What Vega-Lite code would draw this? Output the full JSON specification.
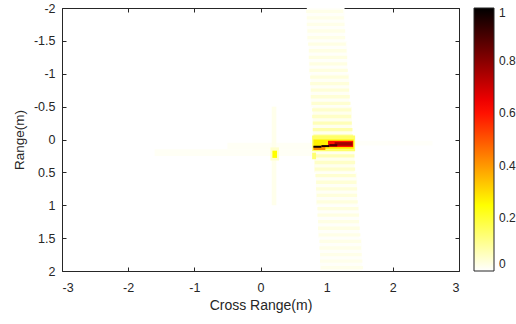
{
  "$schema": "https://vega.github.io/schema/vega-lite/v6.json",
  "width": 397,
  "height": 263,
  "autosize": {"type": "none"},
  "padding": {"left": 62, "top": 8, "right": 57, "bottom": 53},
  "background": "white",
  "config": {
    "view": {"stroke": "#262626", "strokeWidth": 1},
    "font": "Liberation Sans",
    "axis": {
      "grid": false,
      "domain": false,
      "ticks": true,
      "tickColor": "#262626",
      "labelColor": "#262626",
      "titleColor": "#262626",
      "labelFont": "Liberation Sans",
      "titleFont": "Liberation Sans",
      "labelFontSize": 12.5,
      "titleFontSize": 14,
      "titleFontWeight": "normal",
      "tickSize": -4
    }
  },
  "data": {
    "values": [
      {"x": 0.70, "x2": 1.27, "y": -2.0, "y2": -1.5, "v": 0.006},
      {"x": 0.73, "x2": 1.31, "y": -1.5, "y2": -1.0, "v": 0.006},
      {"x": 0.76, "x2": 1.34, "y": -1.0, "y2": -0.5, "v": 0.01},
      {"x": 0.79, "x2": 1.38, "y": -0.5, "y2": 0.0, "v": 0.018},
      {"x": 0.81, "x2": 1.42, "y": 0.0, "y2": 0.5, "v": 0.018},
      {"x": 0.84, "x2": 1.46, "y": 0.5, "y2": 1.0, "v": 0.01},
      {"x": 0.87, "x2": 1.49, "y": 1.0, "y2": 1.5, "v": 0.006},
      {"x": 0.90, "x2": 1.53, "y": 1.5, "y2": 2.0, "v": 0.006},

      {"x": 0.69, "x2": 1.25, "y": -1.975, "y2": -1.925, "v": 0.022},
      {"x": 0.70, "x2": 1.26, "y": -1.875, "y2": -1.825, "v": 0.022},
      {"x": 0.70, "x2": 1.27, "y": -1.775, "y2": -1.725, "v": 0.022},
      {"x": 0.71, "x2": 1.28, "y": -1.675, "y2": -1.625, "v": 0.024},
      {"x": 0.71, "x2": 1.28, "y": -1.575, "y2": -1.525, "v": 0.024},
      {"x": 0.72, "x2": 1.29, "y": -1.475, "y2": -1.425, "v": 0.026},
      {"x": 0.73, "x2": 1.30, "y": -1.375, "y2": -1.325, "v": 0.026},
      {"x": 0.73, "x2": 1.31, "y": -1.275, "y2": -1.225, "v": 0.028},
      {"x": 0.74, "x2": 1.31, "y": -1.175, "y2": -1.125, "v": 0.028},
      {"x": 0.74, "x2": 1.32, "y": -1.075, "y2": -1.025, "v": 0.03},
      {"x": 0.75, "x2": 1.33, "y": -0.975, "y2": -0.925, "v": 0.034},
      {"x": 0.75, "x2": 1.34, "y": -0.875, "y2": -0.825, "v": 0.036},
      {"x": 0.76, "x2": 1.34, "y": -0.775, "y2": -0.725, "v": 0.038},
      {"x": 0.76, "x2": 1.35, "y": -0.675, "y2": -0.625, "v": 0.04},
      {"x": 0.77, "x2": 1.36, "y": -0.575, "y2": -0.525, "v": 0.045},
      {"x": 0.78, "x2": 1.37, "y": -0.475, "y2": -0.425, "v": 0.05},
      {"x": 0.78, "x2": 1.37, "y": -0.375, "y2": -0.325, "v": 0.055},
      {"x": 0.79, "x2": 1.38, "y": -0.275, "y2": -0.225, "v": 0.07},
      {"x": 0.79, "x2": 1.39, "y": -0.175, "y2": -0.125, "v": 0.08},
      {"x": 0.80, "x2": 1.40, "y": -0.075, "y2": -0.025, "v": 0.1},
      {"x": 0.80, "x2": 1.40, "y": 0.025, "y2": 0.075, "v": 0.1},
      {"x": 0.81, "x2": 1.41, "y": 0.125, "y2": 0.175, "v": 0.08},
      {"x": 0.81, "x2": 1.42, "y": 0.225, "y2": 0.275, "v": 0.07},
      {"x": 0.82, "x2": 1.43, "y": 0.325, "y2": 0.375, "v": 0.055},
      {"x": 0.82, "x2": 1.43, "y": 0.425, "y2": 0.475, "v": 0.05},
      {"x": 0.83, "x2": 1.44, "y": 0.525, "y2": 0.575, "v": 0.045},
      {"x": 0.84, "x2": 1.45, "y": 0.625, "y2": 0.675, "v": 0.04},
      {"x": 0.84, "x2": 1.46, "y": 0.725, "y2": 0.775, "v": 0.036},
      {"x": 0.85, "x2": 1.46, "y": 0.825, "y2": 0.875, "v": 0.034},
      {"x": 0.85, "x2": 1.47, "y": 0.925, "y2": 0.975, "v": 0.032},
      {"x": 0.86, "x2": 1.48, "y": 1.025, "y2": 1.075, "v": 0.03},
      {"x": 0.86, "x2": 1.49, "y": 1.125, "y2": 1.175, "v": 0.028},
      {"x": 0.87, "x2": 1.49, "y": 1.225, "y2": 1.275, "v": 0.026},
      {"x": 0.87, "x2": 1.50, "y": 1.325, "y2": 1.375, "v": 0.026},
      {"x": 0.88, "x2": 1.51, "y": 1.425, "y2": 1.475, "v": 0.024},
      {"x": 0.89, "x2": 1.52, "y": 1.525, "y2": 1.575, "v": 0.024},
      {"x": 0.89, "x2": 1.52, "y": 1.625, "y2": 1.675, "v": 0.022},
      {"x": 0.90, "x2": 1.53, "y": 1.725, "y2": 1.775, "v": 0.022},
      {"x": 0.90, "x2": 1.54, "y": 1.825, "y2": 1.875, "v": 0.02},
      {"x": 0.91, "x2": 1.55, "y": 1.925, "y2": 1.975, "v": 0.02},

      {"x": -1.6, "x2": 0.78, "y": 0.15, "y2": 0.25, "v": 0.01},
      {"x": -0.5, "x2": 0.78, "y": 0.05, "y2": 0.15, "v": 0.01},
      {"x": 0.17, "x2": 0.24, "y": -0.5, "y2": 1.0, "v": 0.02},
      {"x": 1.42, "x2": 2.6, "y": 0.02, "y2": 0.09, "v": 0.006},
      {"x": 0.15, "x2": 0.28, "y": 0.12, "y2": 0.32, "v": 0.05},
      {"x": 0.18, "x2": 0.25, "y": 0.17, "y2": 0.28, "v": 0.25},
      {"x": 0.78, "x2": 0.84, "y": 0.2, "y2": 0.3, "v": 0.14},
      {"x": 0.78, "x2": 1.43, "y": -0.06, "y2": 0.18, "v": 0.15},
      {"x": 0.80, "x2": 1.41, "y": 0.0, "y2": 0.14, "v": 0.27},
      {"x": 0.80, "x2": 0.98, "y": 0.10, "y2": 0.16, "v": 0.42},
      {"x": 1.02, "x2": 1.40, "y": 0.02, "y2": 0.115, "v": 0.6},
      {"x": 1.12, "x2": 1.39, "y": 0.04, "y2": 0.095, "v": 0.76},
      {"x": 0.80, "x2": 0.92, "y": 0.095, "y2": 0.125, "v": 0.98},
      {"x": 0.92, "x2": 1.04, "y": 0.085, "y2": 0.115, "v": 0.96},
      {"x": 1.04, "x2": 1.16, "y": 0.07, "y2": 0.105, "v": 0.88}
    ]
  },
  "resolve": {"axis": {"x": "independent", "y": "independent"}},
  "layer": [
    {
      "mark": {"type": "rect", "clip": true},
      "encoding": {
        "x": {
          "field": "x", "type": "quantitative",
          "scale": {"domain": [-3, 3], "nice": false, "zero": false},
          "axis": {"values": [-3, -2, -1, 0, 1, 2, 3], "labelExpr": "datum.value + ''", "labelPadding": 14, "title": "Cross Range(m)", "titlePadding": 5}
        },
        "x2": {"field": "x2"},
        "y": {
          "field": "y", "type": "quantitative",
          "scale": {"domain": [-2, 2], "nice": false, "zero": false, "reverse": true},
          "axis": {"values": [-2, -1.5, -1, -0.5, 0, 0.5, 1, 1.5, 2], "labelExpr": "datum.value + ''", "labelPadding": 11, "title": "Range(m)", "titlePadding": 7, "titleFontSize": 13.5}
        },
        "y2": {"field": "y2"},
        "color": {
          "field": "v", "type": "quantitative",
          "scale": {"domain": [0, 0.25, 0.625, 1], "range": ["#ffffff", "#ffff00", "#ff0000", "#000000"], "interpolate": "rgb"},
          "legend": {
            "orient": "none", "legendX": 412, "legendY": 0,
            "direction": "vertical",
            "title": null,
            "gradientLength": 263, "gradientThickness": 20,
            "gradientStrokeColor": "#262626", "gradientStrokeWidth": 1,
            "values": [0, 0.2, 0.4, 0.6, 0.8, 1],
            "labelExpr": "datum.value + ''",
            "labelFontSize": 12, "labelColor": "#262626", "labelFont": "Liberation Sans",
            "labelOffset": 5
          }
        }
      }
    },
    {
      "mark": {"type": "rect", "opacity": 0},
      "encoding": {
        "x": {
          "field": "x", "type": "quantitative",
          "axis": {"values": [-3, -2, -1, 0, 1, 2, 3], "labels": false, "title": "", "ticks": true}
        },
        "x2": {"field": "x2"},
        "y": {
          "field": "y", "type": "quantitative",
          "axis": {"values": [-2, -1.5, -1, -0.5, 0, 0.5, 1, 1.5, 2], "labels": false, "title": "", "ticks": true}
        },
        "y2": {"field": "y2"}
      }
    }
  ]
}
